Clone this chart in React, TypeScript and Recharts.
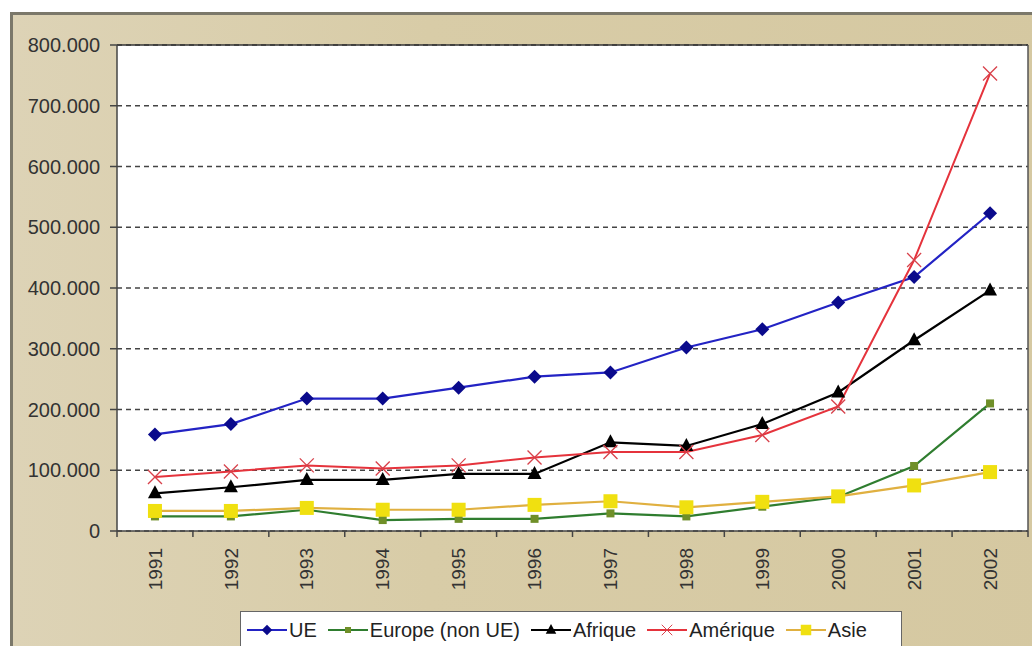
import React from 'react';
import { LineChart, Line, XAxis, YAxis, CartesianGrid, ReferenceLine, Legend } from 'recharts';

const years = [1991, 1992, 1993, 1994, 1995, 1996, 1997, 1998, 1999, 2000, 2001, 2002];
const ueValues = [159000, 176000, 218000, 218000, 236000, 254000, 261000, 302000, 332000, 376000, 418000, 523000];
const europeValues = [24000, 24000, 35000, 18000, 20000, 20000, 29000, 24000, 40000, 56000, 107000, 210000];
const afriqueValues = [62000, 72000, 84000, 84000, 94000, 94000, 146000, 140000, 176000, 228000, 314000, 396000];
const ameriqueValues = [89000, 98000, 108000, 103000, 108000, 121000, 130000, 130000, 158000, 205000, 446000, 753000];
const asieValues = [33000, 33000, 38000, 35000, 35000, 43000, 49000, 39000, 48000, 57000, 75000, 97000];
const yTicks = [0, 100000, 200000, 300000, 400000, 500000, 600000, 700000, 800000];

const seriesNames = ['UE', 'Europe (non UE)', 'Afrique', 'Amérique', 'Asie'];

const data = years.map((year, i) => ({
  year,
  ue: ueValues[i],
  europe: europeValues[i],
  afrique: afriqueValues[i],
  amerique: ameriqueValues[i],
  asie: asieValues[i],
}));

const xTicks = [...years.flatMap((y) => [y - 0.5, y]), years[years.length - 1] + 0.5];

const FONT = '"Liberation Sans", Arial, sans-serif';

const COLORS = {
  ueLine: '#2323c4',
  ueDot: '#0a0a8c',
  euLine: '#2f7d2f',
  euDot: '#6f8f28',
  afLine: '#000000',
  afDot: '#000000',
  amLine: '#e5333c',
  amDot: '#d8404a',
  asLine: '#e0b040',
  asDot: '#f0e010',
};

const fmt = (v: number) => String(v).replace(/\B(?=(\d{3})+(?!\d))/g, '.');

type MP = { cx: number; cy: number };

const Diamond = ({ cx, cy }: MP) => (
  <polygon points={`${cx},${cy - 7} ${cx + 7},${cy} ${cx},${cy + 7} ${cx - 7},${cy}`} fill={COLORS.ueDot} />
);
const SmallSquare = ({ cx, cy }: MP) => (
  <rect x={cx - 4} y={cy - 4} width={8} height={8} fill={COLORS.euDot} />
);
const Triangle = ({ cx, cy }: MP) => (
  <polygon points={`${cx},${cy - 8} ${cx + 7},${cy + 5} ${cx - 7},${cy + 5}`} fill={COLORS.afDot} />
);
const Cross = ({ cx, cy }: MP) => (
  <g stroke={COLORS.amDot} strokeWidth={1.3}>
    <line x1={cx - 7} y1={cy - 7} x2={cx + 7} y2={cy + 7} />
    <line x1={cx - 7} y1={cy + 7} x2={cx + 7} y2={cy - 7} />
  </g>
);
const BigSquare = ({ cx, cy }: MP) => (
  <rect x={cx - 7} y={cy - 7} width={14} height={14} fill={COLORS.asDot} />
);

const XTick = (props: any) => {
  const { x, y, payload } = props;
  const v = payload.value as number;
  const axisY = y - 8;
  if (Number.isInteger(v)) {
    return (
      <text
        x={x}
        y={axisY + 17}
        transform={`rotate(-90, ${x}, ${axisY + 17})`}
        textAnchor="end"
        dy="0.35em"
        fontSize={19}
        fontFamily={FONT}
        fill="#333"
      >
        {v}
      </text>
    );
  }
  return <line x1={x} y1={axisY} x2={x} y2={axisY + 6} stroke="#444" strokeWidth={1.5} />;
};

const legendItems = [
  { name: seriesNames[0], line: COLORS.ueLine, Marker: Diamond },
  { name: seriesNames[1], line: COLORS.euLine, Marker: SmallSquare },
  { name: seriesNames[2], line: COLORS.afLine, Marker: Triangle },
  { name: seriesNames[3], line: COLORS.amLine, Marker: Cross },
  { name: seriesNames[4], line: COLORS.asLine, Marker: BigSquare },
];

const LegendContent = () => (
  <div
    style={{
      background: '#fff',
      border: '1.5px solid #666',
      height: 38,
      boxSizing: 'border-box',
      display: 'flex',
      alignItems: 'center',
      padding: '0 6px',
      fontFamily: FONT,
      fontSize: 20,
      color: '#222',
      whiteSpace: 'nowrap',
    }}
  >
    {legendItems.map(({ name, line, Marker }) => (
      <div key={name} style={{ display: 'flex', alignItems: 'center', marginRight: 11 }}>
        <svg width={40} height={20} style={{ display: 'block' }}>
          <line x1={0} y1={10} x2={40} y2={10} stroke={line} strokeWidth={2} />
          <g transform="translate(20,10) scale(0.75)">
            <Marker cx={0} cy={0} />
          </g>
        </svg>
        <span style={{ marginLeft: 2 }}>{name}</span>
      </div>
    ))}
  </div>
);

export default function App() {
  return (
    <div
      style={{
        position: 'absolute',
        left: 0,
        top: 0,
        width: 1032,
        height: 646,
        overflow: 'hidden',
        background: '#ffffff',
      }}
    >
      <div
        style={{
          position: 'absolute',
          left: 10,
          top: 12,
          width: 1040,
          height: 660,
          border: '3px solid #7b786a',
          background: 'linear-gradient(90deg, #ddd3b6 0%, #d8cca7 40%, #d5c8a1 100%)',
        }}
      />
      <div style={{ position: 'absolute', left: 0, top: 0 }}>
        <LineChart
          width={1032}
          height={646}
          data={data}
          margin={{ top: 45, right: 4, left: 0, bottom: 0 }}
        >
          <CartesianGrid
            horizontal
            vertical={false}
            fill="#ffffff"
            stroke="#444"
            strokeDasharray="5 4"
            strokeWidth={1.5}
          />
          <XAxis
            dataKey="year"
            type="number"
            domain={[1990.5, 2002.5]}
            ticks={xTicks}
            interval={0}
            height={115}
            tickSize={8}
            tickMargin={0}
            tickLine={false}
            axisLine={{ stroke: '#444', strokeWidth: 1.5 }}
            tick={<XTick />}
            allowDecimals
          />
          <YAxis
            type="number"
            domain={[0, 800000]}
            ticks={yTicks}
            interval={0}
            width={117}
            tickSize={7}
            tickMargin={10}
            tickFormatter={fmt}
            tickLine={{ stroke: '#444', strokeWidth: 1.5 }}
            axisLine={{ stroke: '#444', strokeWidth: 1.5 }}
            tick={{ fontSize: 20, fontFamily: FONT, fill: '#333' }}
          />
          <ReferenceLine y={800000} stroke="#333" strokeWidth={1.5} />
          <ReferenceLine x={2002.5} stroke="#555" strokeWidth={1.5} />
          <Legend
            verticalAlign="middle"
            align="center"
            layout="horizontal"
            wrapperStyle={{ left: 240, top: 611, width: 662, height: 40 }}
            content={<LegendContent />}
          />
          <Line
            dataKey="ue"
            name={seriesNames[0]}
            stroke={COLORS.ueLine}
            strokeWidth={2.2}
            isAnimationActive={false}
            dot={(p: any) => <Diamond key={`ue${p.index}`} cx={p.cx} cy={p.cy} />}
          />
          <Line
            dataKey="europe"
            name={seriesNames[1]}
            stroke={COLORS.euLine}
            strokeWidth={2.2}
            isAnimationActive={false}
            dot={(p: any) => <SmallSquare key={`eu${p.index}`} cx={p.cx} cy={p.cy} />}
          />
          <Line
            dataKey="afrique"
            name={seriesNames[2]}
            stroke={COLORS.afLine}
            strokeWidth={2.2}
            isAnimationActive={false}
            dot={(p: any) => <Triangle key={`af${p.index}`} cx={p.cx} cy={p.cy} />}
          />
          <Line
            dataKey="amerique"
            name={seriesNames[3]}
            stroke={COLORS.amLine}
            strokeWidth={2}
            isAnimationActive={false}
            dot={(p: any) => <Cross key={`am${p.index}`} cx={p.cx} cy={p.cy} />}
          />
          <Line
            dataKey="asie"
            name={seriesNames[4]}
            stroke={COLORS.asLine}
            strokeWidth={2.2}
            isAnimationActive={false}
            dot={(p: any) => <BigSquare key={`as${p.index}`} cx={p.cx} cy={p.cy} />}
          />
        </LineChart>
      </div>
    </div>
  );
}
